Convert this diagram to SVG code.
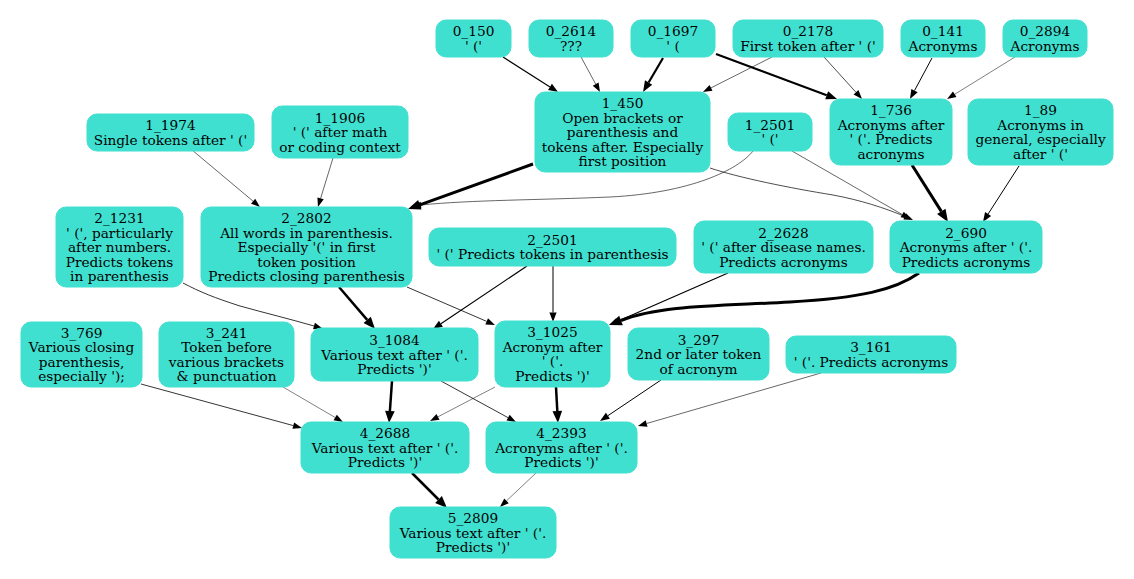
<svg xmlns="http://www.w3.org/2000/svg" width="1134" height="579" viewBox="0 0 1134 579">
<style>
.node rect{fill:#40E0D0;stroke:#40E0D0;stroke-width:1}
.node text{font-family:"DejaVu Serif","Liberation Serif",serif;font-size:13.7px;fill:#000;text-anchor:middle}
#edges path{fill:none;stroke:#000}
.w5{stroke-width:.5;marker-end:url(#aT)}
.w6{stroke-width:.6;marker-end:url(#aT)}
.w7{stroke-width:.7;marker-end:url(#aT)}
.w8{stroke-width:.8;marker-end:url(#aT)}
.w10{stroke-width:1;marker-end:url(#aM)}
.w12{stroke-width:1.2;marker-end:url(#aM)}
.w22{stroke-width:2.2;marker-end:url(#aK)}
.w25{stroke-width:2.5;marker-end:url(#aX)}
.w30{stroke-width:3;marker-end:url(#aY)}
</style>
<defs>
<marker id="aT" markerUnits="userSpaceOnUse" markerWidth="10" markerHeight="8" refX="0" refY="3.3" orient="auto" overflow="visible"><path d="M0,0 L9,3.3 L0,6.6 z" fill="#000"/></marker>
<marker id="aM" markerUnits="userSpaceOnUse" markerWidth="10" markerHeight="8" refX="0" refY="3.6" orient="auto" overflow="visible"><path d="M0,0 L9.5,3.6 L0,7.2 z" fill="#000"/></marker>
<marker id="aK" markerUnits="userSpaceOnUse" markerWidth="12" markerHeight="9" refX="0" refY="4.2" orient="auto" overflow="visible"><path d="M0,0 L11,4.2 L0,8.4 z" fill="#000"/></marker>
<marker id="aX" markerUnits="userSpaceOnUse" markerWidth="13" markerHeight="10" refX="0" refY="4.8" orient="auto" overflow="visible"><path d="M0,0 L12,4.8 L0,9.6 z" fill="#000"/></marker>
<marker id="aY" markerUnits="userSpaceOnUse" markerWidth="13" markerHeight="10" refX="0" refY="5" orient="auto" overflow="visible"><path d="M0,0 L12.5,5 L0,10 z" fill="#000"/></marker>
</defs>
<rect width="1134" height="579" fill="#fff"/>
<g id="edges">
<path class="w12" d="M503,57 L550,86.9"/>
<path class="w6" d="M581,57 L595.7,84.1"/>
<path class="w22" d="M663,58 L648.6,82.5"/>
<path class="w22" d="M716,54 L826.7,95.2"/>
<path class="w6" d="M772,57 L711,87.9"/>
<path class="w7" d="M824,57 L856,92.3"/>
<path class="w10" d="M932,58 L914.5,90.6"/>
<path class="w5" d="M1015,57 L954.7,94.3"/>
<path class="w6" d="M192,150 L253.1,201.2"/>
<path class="w6" d="M333,158 L320.6,198.4"/>
<path class="w30" d="M533,164 L419.8,204.8"/>
<path class="w6" d="M753,151 C738,170 690,193 610,197 C540,200 470,200 421,205"/>
<path class="w7" d="M710,168 C740,178 790,188 833,195 C860,200 885,208 904.7,216.4"/>
<path class="w6" d="M792,151 L902.2,214.5"/>
<path class="w30" d="M912,165 L941.3,211.4"/>
<path class="w10" d="M1019,166 L988.1,214"/>
<path class="w8" d="M183,283 C200,292 215,298 240,306 C265,313 290,319 314,326"/>
<path class="w25" d="M339,287 L367.2,319.9"/>
<path class="w8" d="M407,287 L486.7,321.4"/>
<path class="w12" d="M527,266 L440.9,323.7"/>
<path class="w10" d="M553,266 L553,312.5"/>
<path class="w12" d="M728,273 L617.7,321.2"/>
<path class="w30" d="M919,273 C895,290 860,298 790,302 C720,306 660,305 621,320.5"/>
<path class="w8" d="M141,384 L293.3,425.6"/>
<path class="w5" d="M283,387 L335.2,417.5"/>
<path class="w25" d="M392,381 L389.9,411"/>
<path class="w8" d="M441,381 L508.1,417.7"/>
<path class="w5" d="M495,387 L438,416.8"/>
<path class="w25" d="M556,387 L557.3,411"/>
<path class="w10" d="M661,380 L607.9,415.7"/>
<path class="w6" d="M821,373 L646.6,423.5"/>
<path class="w25" d="M412,473 L438.5,499.5"/>
<path class="w5" d="M536,473 L506.5,500.8"/>
</g>
<g id="n0_150" class="node"><rect x="436" y="20" width="75" height="37" rx="10"/><text x="473.5" y="36.3">0_150<tspan x="473.5" dy="14.5">' ('</tspan></text></g>
<g id="n0_2614" class="node"><rect x="529" y="20" width="84" height="37" rx="10"/><text x="571" y="36.3">0_2614<tspan x="571" dy="14.5">???</tspan></text></g>
<g id="n0_1697" class="node"><rect x="631" y="20" width="84" height="37" rx="10"/><text x="673" y="36.3">0_1697<tspan x="673" dy="14.5">' (</tspan></text></g>
<g id="n0_2178" class="node"><rect x="733" y="20" width="150" height="37" rx="10"/><text x="808" y="36.3">0_2178<tspan x="808" dy="14.5">First token after ' ('</tspan></text></g>
<g id="n0_141" class="node"><rect x="901" y="20" width="84" height="37" rx="10"/><text x="943" y="36.3">0_141<tspan x="943" dy="14.5">Acronyms</tspan></text></g>
<g id="n0_2894" class="node"><rect x="1003" y="20" width="84" height="37" rx="10"/><text x="1045" y="36.3">0_2894<tspan x="1045" dy="14.5">Acronyms</tspan></text></g>
<g id="n1_450" class="node"><rect x="535" y="92" width="175" height="80" rx="10"/><text x="622.5" y="108">1_450<tspan x="622.5" dy="14.5">Open brackets or</tspan><tspan x="622.5" dy="14.5">parenthesis and</tspan><tspan x="622.5" dy="14.5">tokens after. Especially</tspan><tspan x="622.5" dy="14.5">first position</tspan></text></g>
<g id="n1_2501" class="node"><rect x="728" y="113" width="84" height="38" rx="10"/><text x="770" y="129.8">1_2501<tspan x="770" dy="14.5">' ('</tspan></text></g>
<g id="n1_736" class="node"><rect x="830" y="99" width="122" height="66" rx="10"/><text x="891" y="115.3">1_736<tspan x="891" dy="14.5">Acronyms after</tspan><tspan x="891" dy="14.5">' ('. Predicts</tspan><tspan x="891" dy="14.5">acronyms</tspan></text></g>
<g id="n1_89" class="node"><rect x="968" y="99" width="145" height="66" rx="10"/><text x="1040.5" y="115.3">1_89<tspan x="1040.5" dy="14.5">Acronyms in</tspan><tspan x="1040.5" dy="14.5">general, especially</tspan><tspan x="1040.5" dy="14.5">after ' ('</tspan></text></g>
<g id="n1_1974" class="node"><rect x="87" y="114" width="167" height="37" rx="10"/><text x="170.5" y="130.3">1_1974<tspan x="170.5" dy="14.5">Single tokens after ' ('</tspan></text></g>
<g id="n1_1906" class="node"><rect x="272" y="106" width="136" height="52" rx="10"/><text x="340" y="122.5">1_1906<tspan x="340" dy="14.5">' (' after math</tspan><tspan x="340" dy="14.5">or coding context</tspan></text></g>
<g id="n2_1231" class="node"><rect x="56" y="207" width="127" height="80" rx="10"/><text x="119.5" y="223">2_1231<tspan x="119.5" dy="14.5">' (', particularly</tspan><tspan x="119.5" dy="14.5">after numbers.</tspan><tspan x="119.5" dy="14.5">Predicts tokens</tspan><tspan x="119.5" dy="14.5">in parenthesis</tspan></text></g>
<g id="n2_2802" class="node"><rect x="201" y="207" width="211" height="80" rx="10"/><text x="306.5" y="223">2_2802<tspan x="306.5" dy="14.5">All words in parenthesis.</tspan><tspan x="306.5" dy="14.5">Especially '(' in first</tspan><tspan x="306.5" dy="14.5">token position</tspan><tspan x="306.5" dy="14.5">Predicts closing parenthesis</tspan></text></g>
<g id="n2_2501" class="node"><rect x="429" y="228" width="247" height="38" rx="10"/><text x="552.5" y="244.8">2_2501<tspan x="552.5" dy="14.5">' (' Predicts tokens in parenthesis</tspan></text></g>
<g id="n2_2628" class="node"><rect x="694" y="221" width="179" height="52" rx="10"/><text x="783.5" y="237.5">2_2628<tspan x="783.5" dy="14.5">' (' after disease names.</tspan><tspan x="783.5" dy="14.5">Predicts acronyms</tspan></text></g>
<g id="n2_690" class="node"><rect x="890" y="221" width="152" height="52" rx="10"/><text x="966" y="237.5">2_690<tspan x="966" dy="14.5">Acronyms after ' ('.</tspan><tspan x="966" dy="14.5">Predicts acronyms</tspan></text></g>
<g id="n3_769" class="node"><rect x="21" y="322" width="121" height="65" rx="10"/><text x="81.5" y="337.8">3_769<tspan x="81.5" dy="14.5">Various closing</tspan><tspan x="81.5" dy="14.5">parenthesis,</tspan><tspan x="81.5" dy="14.5">especially ');</tspan></text></g>
<g id="n3_241" class="node"><rect x="159" y="322" width="135" height="65" rx="10"/><text x="226.5" y="337.8">3_241<tspan x="226.5" dy="14.5">Token before</tspan><tspan x="226.5" dy="14.5">various brackets</tspan><tspan x="226.5" dy="14.5">&amp; punctuation</tspan></text></g>
<g id="n3_1084" class="node"><rect x="311" y="328" width="167" height="53" rx="10"/><text x="394.5" y="345">3_1084<tspan x="394.5" dy="14.5">Various text after ' ('.</tspan><tspan x="394.5" dy="14.5">Predicts ')'</tspan></text></g>
<g id="n3_1025" class="node"><rect x="495" y="321" width="115" height="66" rx="10"/><text x="552.5" y="337.3">3_1025<tspan x="552.5" dy="14.5">Acronym after</tspan><tspan x="552.5" dy="14.5">' ('.</tspan><tspan x="552.5" dy="14.5">Predicts ')'</tspan></text></g>
<g id="n3_297" class="node"><rect x="628" y="328" width="141" height="52" rx="10"/><text x="698.5" y="344.5">3_297<tspan x="698.5" dy="14.5">2nd or later token</tspan><tspan x="698.5" dy="14.5">of acronym</tspan></text></g>
<g id="n3_161" class="node"><rect x="786" y="336" width="170" height="37" rx="10"/><text x="871" y="352.3">3_161<tspan x="871" dy="14.5">' ('. Predicts acronyms</tspan></text></g>
<g id="n4_2688" class="node"><rect x="301" y="422" width="168" height="51" rx="10"/><text x="385" y="438">4_2688<tspan x="385" dy="14.5">Various text after ' ('.</tspan><tspan x="385" dy="14.5">Predicts ')'</tspan></text></g>
<g id="n4_2393" class="node"><rect x="486" y="422" width="151" height="51" rx="10"/><text x="561.5" y="438">4_2393<tspan x="561.5" dy="14.5">Acronyms after ' ('.</tspan><tspan x="561.5" dy="14.5">Predicts ')'</tspan></text></g>
<g id="n5_2809" class="node"><rect x="390" y="507" width="166" height="51" rx="10"/><text x="473" y="523">5_2809<tspan x="473" dy="14.5">Various text after ' ('.</tspan><tspan x="473" dy="14.5">Predicts ')'</tspan></text></g>
</svg>
